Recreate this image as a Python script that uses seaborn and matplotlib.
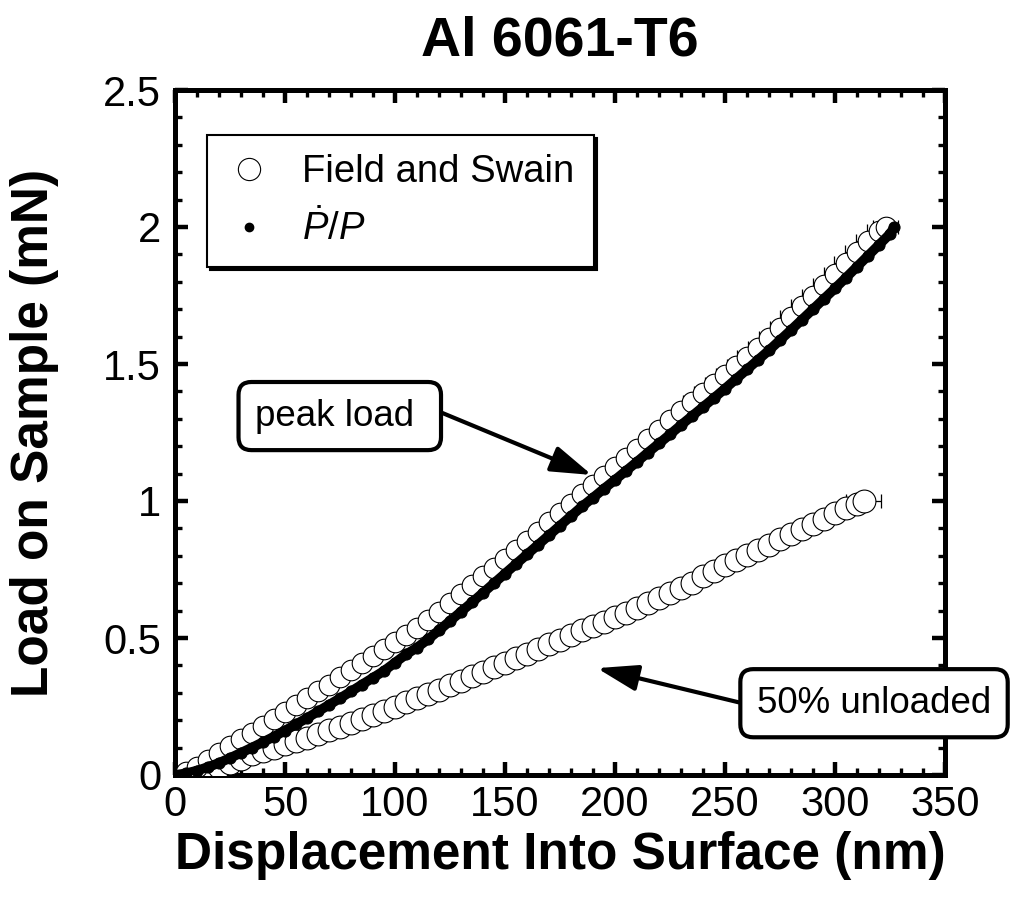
import matplotlib
matplotlib.use("Agg")
import matplotlib.pyplot as plt
import seaborn as sns
import pandas as pd
from matplotlib.lines import Line2D
from matplotlib.ticker import MultipleLocator

# ---------------- data ----------------
title = "Al 6061-T6"
x_label = "Displacement Into Surface (nm)"
y_label = "Load on Sample (mN)"
legend_labels = ["Field and Swain", r"$\dot{P}/P$"]
x_ticks = [0, 50, 100, 150, 200, 250, 300, 350]
y_ticks = [0, 0.5, 1, 1.5, 2, 2.5]
y_tick_labels = ["0", "0.5", "1", "1.5", "2", "2.5"]

# Field and Swain, peak load
peak_fs_x = [5, 10, 15, 20, 25, 30, 35, 40, 45, 50, 55, 60, 65, 70, 75, 80, 85, 90, 95, 100,
             105, 110, 115, 120, 125, 130, 135, 140, 145, 150, 155, 160, 165, 170, 175, 180,
             185, 190, 195, 200, 205, 210, 215, 220, 225, 230, 235, 240, 245, 250, 255, 260,
             265, 270, 275, 280, 285, 290, 295, 300, 305, 310, 315, 320, 323]
peak_fs_y = [0.012, 0.03, 0.055, 0.08, 0.105, 0.13, 0.155, 0.18, 0.205, 0.23, 0.255, 0.28,
             0.305, 0.33, 0.357, 0.384, 0.41, 0.435, 0.46, 0.485, 0.51, 0.535, 0.565, 0.595,
             0.628, 0.66, 0.692, 0.725, 0.757, 0.79, 0.822, 0.855, 0.888, 0.922, 0.956, 0.99,
             1.025, 1.06, 1.092, 1.125, 1.158, 1.19, 1.225, 1.26, 1.295, 1.33, 1.362, 1.395,
             1.428, 1.46, 1.493, 1.525, 1.56, 1.595, 1.632, 1.67, 1.71, 1.75, 1.79, 1.83,
             1.87, 1.91, 1.948, 1.985, 2.0]
peak_fs_err = [0.3, 0.3, 0.4, 0.4, 0.5, 0.5, 0.6, 0.6, 0.7, 0.7, 0.8, 0.8, 0.9, 0.9, 1.0, 1.0,
               1.1, 1.1, 1.2, 1.2, 1.3, 1.4, 1.5, 1.6, 1.7, 1.8, 1.9, 2.0, 2.1, 2.2, 2.3, 2.4,
               2.5, 2.6, 2.7, 2.8, 2.9, 3.0, 3.1, 3.2, 3.3, 3.4, 3.5, 3.6, 3.7, 3.8, 3.9, 4.0,
               4.1, 4.2, 4.3, 4.4, 4.5, 4.6, 4.7, 4.8, 4.9, 5.0, 5.1, 5.2, 5.3, 5.4, 5.5, 5.6,
               5.7]

# Pdot/P method, peak load
peak_pp_x = [0, 5, 10, 15, 20, 25, 30, 35, 40, 45, 50, 55, 60, 65, 70, 75, 80, 85, 90, 95,
             100, 105, 110, 115, 120, 125, 130, 135, 140, 145, 150, 155, 160, 165, 170, 175,
             180, 185, 190, 195, 200, 205, 210, 215, 220, 225, 230, 235, 240, 245, 250, 255,
             260, 265, 270, 275, 280, 285, 290, 295, 300, 305, 310, 315, 320, 325, 327]
peak_pp_y = [0.0, 0.006, 0.016, 0.029, 0.044, 0.062, 0.081, 0.1, 0.12, 0.14, 0.162, 0.185,
             0.208, 0.232, 0.256, 0.28, 0.305, 0.33, 0.355, 0.38, 0.41, 0.44, 0.465, 0.495,
             0.528, 0.562, 0.596, 0.63, 0.665, 0.7, 0.735, 0.77, 0.805, 0.84, 0.875, 0.91,
             0.945, 0.98, 1.012, 1.045, 1.077, 1.11, 1.143, 1.177, 1.21, 1.243, 1.277, 1.31,
             1.343, 1.376, 1.41, 1.445, 1.48, 1.515, 1.55, 1.587, 1.624, 1.662, 1.7, 1.738,
             1.776, 1.815, 1.855, 1.895, 1.935, 1.975, 2.0]

# Field and Swain, 50% unloaded
unl_fs_x = [10, 15, 20, 25, 30, 35, 40, 45, 50, 55, 60, 65, 70, 75, 80, 85, 90, 95, 100, 105,
            110, 115, 120, 125, 130, 135, 140, 145, 150, 155, 160, 165, 170, 175, 180, 185,
            190, 195, 200, 205, 210, 215, 220, 225, 230, 235, 240, 245, 250, 255, 260, 265,
            270, 275, 280, 285, 290, 295, 300, 305, 310, 313]
unl_fs_y = [0.005, 0.015, 0.03, 0.045, 0.06, 0.075, 0.088, 0.1, 0.112, 0.124, 0.136, 0.15,
            0.163, 0.177, 0.19, 0.205, 0.22, 0.235, 0.25, 0.265, 0.28, 0.296, 0.312, 0.328,
            0.344, 0.36, 0.377, 0.393, 0.41, 0.426, 0.443, 0.46, 0.477, 0.494, 0.511, 0.528,
            0.545, 0.56, 0.575, 0.592, 0.61, 0.627, 0.645, 0.663, 0.681, 0.7, 0.725, 0.745,
            0.765, 0.784, 0.803, 0.822, 0.841, 0.86, 0.879, 0.898, 0.917, 0.936, 0.955,
            0.973, 0.99, 1.0]
unl_fs_err = [0.3, 0.3, 0.3, 0.4, 0.4, 0.4, 0.5, 0.5, 0.5, 0.6, 0.6, 0.6, 0.7, 0.7, 0.7, 0.8,
              0.8, 0.8, 0.9, 0.9, 0.9, 1.0, 1.0, 1.0, 1.1, 1.1, 1.1, 1.2, 1.2, 1.2, 1.3, 1.3,
              1.3, 1.4, 1.4, 1.4, 1.5, 1.5, 1.5, 1.6, 1.6, 1.6, 1.7, 1.7, 1.7, 1.8, 1.8, 1.8,
              1.9, 1.9, 1.9, 2.0, 2.0, 2.0, 2.1, 2.1, 2.1, 2.2, 2.2, 2.3, 2.4, 8.0]

ann_peak = {"text": "peak load ", "tip": (189.5, 1.095), "pos": (36.4, 1.31)}
ann_unl = {"text": "50% unloaded", "tip": (191.8, 0.39), "pos": (264.5, 0.262)}

# ---------------- style ----------------
sns.set_theme(style="ticks")
plt.rcParams["font.family"] = ["Liberation Sans", "DejaVu Sans"]
plt.rcParams["mathtext.fontset"] = "custom"
plt.rcParams["mathtext.rm"] = "Liberation Sans"
plt.rcParams["mathtext.it"] = "Liberation Sans:italic"
for key in ["text.color", "axes.labelcolor", "xtick.color", "ytick.color", "axes.edgecolor"]:
    plt.rcParams[key] = "black"

fig = plt.figure(figsize=(10.21, 8.99), dpi=100)
ax = fig.add_axes([175 / 1021, 1 - 775 / 899, 770 / 1021, 685 / 899])

df_peak_fs = pd.DataFrame({"x": peak_fs_x, "y": peak_fs_y})
df_peak_pp = pd.DataFrame({"x": peak_pp_x, "y": peak_pp_y})
df_unl_fs = pd.DataFrame({"x": unl_fs_x, "y": unl_fs_y})

# error bars (behind)
ax.errorbar(unl_fs_x, unl_fs_y, xerr=unl_fs_err, fmt="none", ecolor="black",
            elinewidth=0.9, capsize=5, capthick=0.9, zorder=2)
ax.errorbar(peak_fs_x, peak_fs_y, xerr=peak_fs_err, fmt="none", ecolor="black",
            elinewidth=0.9, capsize=5, capthick=0.9, zorder=2)

sns.scatterplot(data=df_unl_fs, x="x", y="y", marker="o", s=270, facecolor="white",
                edgecolor="black", linewidth=0.8, ax=ax, zorder=3, legend=False)
sns.scatterplot(data=df_peak_fs, x="x", y="y", marker="o", s=220, facecolor="white",
                edgecolor="black", linewidth=0.8, ax=ax, zorder=3, legend=False)
sns.lineplot(data=df_peak_pp, x="x", y="y", color="black", linewidth=7, marker="o",
             markersize=8, markeredgecolor="black", ax=ax, zorder=4, legend=False,
             estimator=None, sort=False)

ax.set_xlim(0, 350)
ax.set_ylim(0, 2.5)
ax.set_xticks(x_ticks)
ax.set_yticks(y_ticks)
ax.set_yticklabels(y_tick_labels)
ax.xaxis.set_minor_locator(MultipleLocator(10))
ax.yaxis.set_minor_locator(MultipleLocator(0.1))
ax.tick_params(which="both", direction="in", top=True, right=True, colors="black")
ax.tick_params(which="major", length=9.5, width=3.2, labelsize=30, pad=7)
ax.tick_params(axis="y", which="major", pad=10)
ax.tick_params(which="minor", length=5, width=2.4)
for sp in ax.spines.values():
    sp.set_linewidth(3.6)
    sp.set_color("black")

ax.set_xlabel(x_label, fontsize=37, fontweight="bold", color="black", va="center")
ax.xaxis.set_label_coords(0.5, (775 - 855) / 685)
ax.set_ylabel(y_label, fontsize=37, fontweight="bold", color="black", va="center")
ax.yaxis.set_label_coords((35 - 175) / 770, 0.5)

fig.text(560 / 1021, 1 - 42 / 899, title, fontsize=40, fontweight="bold",
         ha="center", va="center", color="black")

handles = [Line2D([], [], ls="none", marker="o", mfc="white", mec="black", ms=16, mew=0.8),
           Line2D([], [], ls="none", marker="o", color="black", ms=6)]
leg = ax.legend(handles, legend_labels, loc="upper left",
                bbox_to_anchor=((207 - 175) / 770, (775 - 135) / 685),
                borderaxespad=0, fontsize=27.5, frameon=True, fancybox=False,
                edgecolor="black", framealpha=1,
                shadow={"color": "black", "alpha": 1},
                handlelength=1.2, handletextpad=0.8, borderpad=0.5, labelspacing=0.5)
leg.get_frame().set_linewidth(1.5)
leg.set_zorder(10)
for t in leg.get_texts():
    t.set_color("black")

box = dict(boxstyle="round,pad=0.45,rounding_size=0.35", fc="white", ec="black", lw=3)
ax.annotate(ann_peak["text"], xy=ann_peak["tip"], xytext=ann_peak["pos"],
            ha="left", va="center", fontsize=26.5, bbox=box, annotation_clip=False,
            zorder=12, color="black",
            arrowprops=dict(arrowstyle="-|>,head_length=1.0,head_width=0.32", lw=3,
                            color="black", shrinkA=0, shrinkB=0, relpos=(1, 0.8),
                            mutation_scale=25))
ax.annotate(ann_unl["text"], xy=ann_unl["tip"], xytext=ann_unl["pos"],
            ha="left", va="center", fontsize=26.5, bbox=box, annotation_clip=False,
            zorder=12, color="black",
            arrowprops=dict(arrowstyle="-|>,head_length=1.0,head_width=0.32", lw=3,
                            color="black", shrinkA=0, shrinkB=0, relpos=(0, 0.4),
                            mutation_scale=25))

fig.savefig("out.png", dpi=100, facecolor="white")
